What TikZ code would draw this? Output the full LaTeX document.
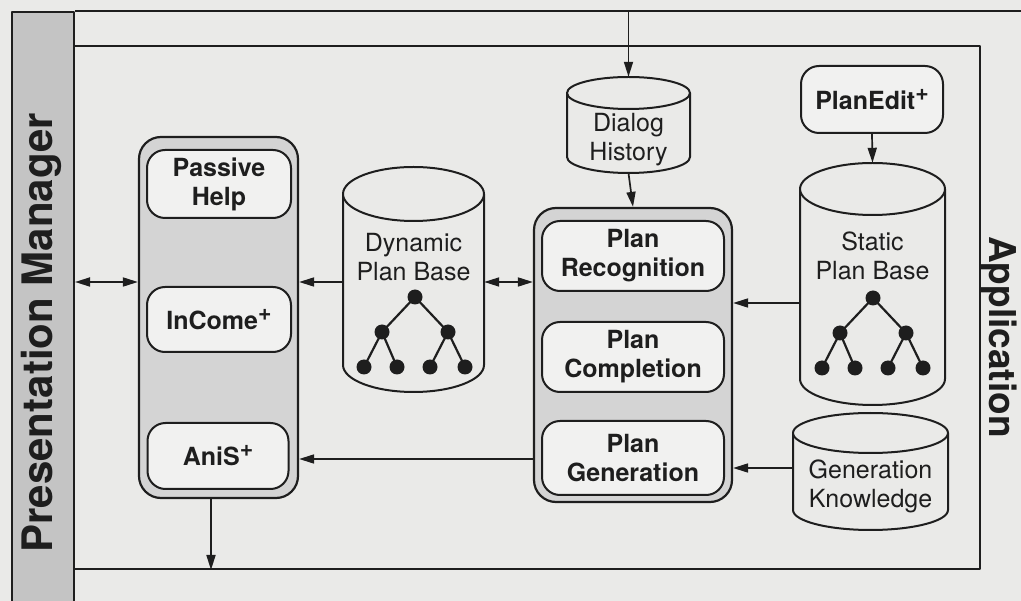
\documentclass[tikz,border=0pt]{standalone}
\usepackage{fontspec}
\setmainfont{TeX Gyre Heros}
\usetikzlibrary{arrows.meta,calc}
\definecolor{paper}{RGB}{234,234,232}
\definecolor{barfill}{RGB}{196,196,196}
\definecolor{grpfill}{RGB}{212,212,212}
\definecolor{boxfill}{RGB}{241,241,240}
\definecolor{ink}{RGB}{30,30,30}
\newcommand\plus{\raisebox{0.36em}{\fontsize{23}{23}\selectfont\bfseries +}}
\newcommand\drum[6]{% name, cx, top, bottom, rx, ry
  \node[inner sep=0pt, minimum width={2*#5}, minimum height={#4-#3}] (#1) at (#2,{(#3+#4)/2}) {};
  \path[cylline, fill=paper] ({#2-#5},{#3+#6}) -- ({#2-#5},{#4-#6})
     arc[start angle=180, end angle=0, x radius=#5, y radius=#6] -- ({#2+#5},{#3+#6}) -- cycle;
  \draw[cylline, fill=paper] (#2,{#3+#6}) ellipse[x radius=#5, y radius=#6];
}
\newcommand\plantree[2]{% root x, root y
  \draw[branch] ({#1-51},{#2+70}) -- ({#1-33},{#2+35}) -- ({#1-18},{#2+70});
  \draw[branch] ({#1+15},{#2+70}) -- ({#1+33},{#2+35}) -- ({#1+50},{#2+70});
  \draw[branch] ({#1-33},{#2+35}) -- (#1,#2) -- ({#1+33},{#2+35});
  \foreach \dx/\dy in {0/0,-33/35,33/35,-51/70,-18/70,15/70,50/70}
    \fill[ink] ({#1+\dx},{#2+\dy}) circle[radius=7.5pt];
}
\begin{document}
\begin{tikzpicture}[x=1pt,y=-1pt,
  line join=round,
  frameline/.style={draw=ink, line width=2pt},
  grp/.style={draw=ink, line width=2.2pt, fill=grpfill, rounded corners=22pt, inner sep=0pt},
  mod/.style={draw=ink, line width=2pt, fill=boxfill, rounded corners=18pt, inner sep=0pt,
     font=\bfseries\fontsize{25}{29}\selectfont, text=ink, align=center},
  cyltext/.style={font=\fontsize{25}{29}\selectfont, text=ink, align=center, inner sep=0pt},
  cylline/.style={draw=ink, line width=2pt},
  arr/.style={draw=ink, line width=1.7pt, -{Triangle[length=15pt,width=9pt]}},
  darr/.style={draw=ink, line width=1.7pt, {Triangle[length=15pt,width=9pt]}-{Triangle[length=15pt,width=9pt]}},
  branch/.style={draw=ink, line width=2.2pt},
  side/.style={font=\bfseries\fontsize{42}{42}\selectfont, text=ink, inner sep=0pt}
]
\useasboundingbox (0,0) rectangle (1021,601);
\fill[paper] (0,0) rectangle (1021,601);

% presentation manager bar and outer frame
\node[draw=ink, line width=2pt, fill=barfill, minimum width=62pt, minimum height=640pt,
      anchor=north west, inner sep=0pt] (pmbar) at (11,11) {};
\node[side, rotate=90] (pmtext) at (41,333) {Presentation Manager};
\draw[frameline] (pmbar.north east) -- (1030,11);
\node[draw=ink, line width=2pt, minimum width=906pt, minimum height=523pt,
      anchor=north west, inner sep=0pt] (frame) at (73,45) {};
\node[side, rotate=-90, font=\bfseries\fontsize{37}{37}\selectfont] (apptext) at (999,337) {Application};
\coordinate (topin) at (628.5,11);

% left group
\node[grp, minimum width=159pt, minimum height=361pt] (lg) at (218.5,317.5) {};
\node[mod, minimum width=144pt, minimum height=68pt] (ph) at (219,184) {Passive\\Help};
\node[mod, minimum width=144pt, minimum height=65pt] (ic) at (219,319.5) {InCome\plus};
\node[mod, minimum width=141pt, minimum height=66pt] (an) at (218,456) {AniS\plus};

% middle group
\node[grp, minimum width=198pt, minimum height=294pt] (mg) at (633,355) {};
\node[mod, minimum width=182pt, minimum height=70pt] (pr) at (633,256) {Plan\\Recognition};
\node[mod, minimum width=182pt, minimum height=70pt] (pc) at (633,357) {Plan\\Completion};
\node[mod, minimum width=182pt, minimum height=74pt] (pg) at (633,458) {Plan\\Generation};

% PlanEdit
\node[mod, minimum width=142pt, minimum height=67pt] (pe) at (872,99.5) {PlanEdit\plus};

% cylinders
\drum{dh}{628.5}{77}{173}{61.5}{16}
\node[cyltext] (dht) at (628.5,140) {Dialog\\History};
\drum{dpb}{413.5}{167}{392}{70.5}{27}
\node[cyltext] (dpbt) at (413.5,257) {Dynamic\\Plan Base};
\plantree{415}{297}
\drum{spb}{872.5}{163}{405}{72.5}{26}
\node[cyltext] (spbt) at (872.5,256) {Static\\Plan Base};
\plantree{873}{298}
\drum{gk}{870.5}{413}{530}{77.5}{20}
\node[cyltext] (gkt) at (870.5,486) {Generation\\Knowledge};

% rows and columns for connectors
\coordinate (rowA) at (0,282);
\coordinate (rowB) at (0,303);
\coordinate (rowC) at (0,459);
\coordinate (rowD) at (0,468);
\coordinate (colE) at (211,0);

% connectors
\draw[darr] (pmbar.east |- rowA) -- (lg.west |- rowA);
\draw[arr] (dpb.west |- rowA) -- (lg.east |- rowA);
\draw[darr] (dpb.east |- rowA) -- (mg.west |- rowA);
\draw[arr] (spb.west |- rowB) -- (mg.east |- rowB);
\draw[arr] (gk.west |- rowD) -- (mg.east |- rowD);
\draw[arr] (mg.west |- rowC) -- (lg.east |- rowC);
\draw[arr] (topin) -- (dh.north);
\draw[arr] (dh.south) -- (mg.north);
\draw[arr] (pe.south) -- (spb.north);
\draw[arr] (lg.south -| colE) -- (frame.south -| colE);
\end{tikzpicture}
\end{document}
